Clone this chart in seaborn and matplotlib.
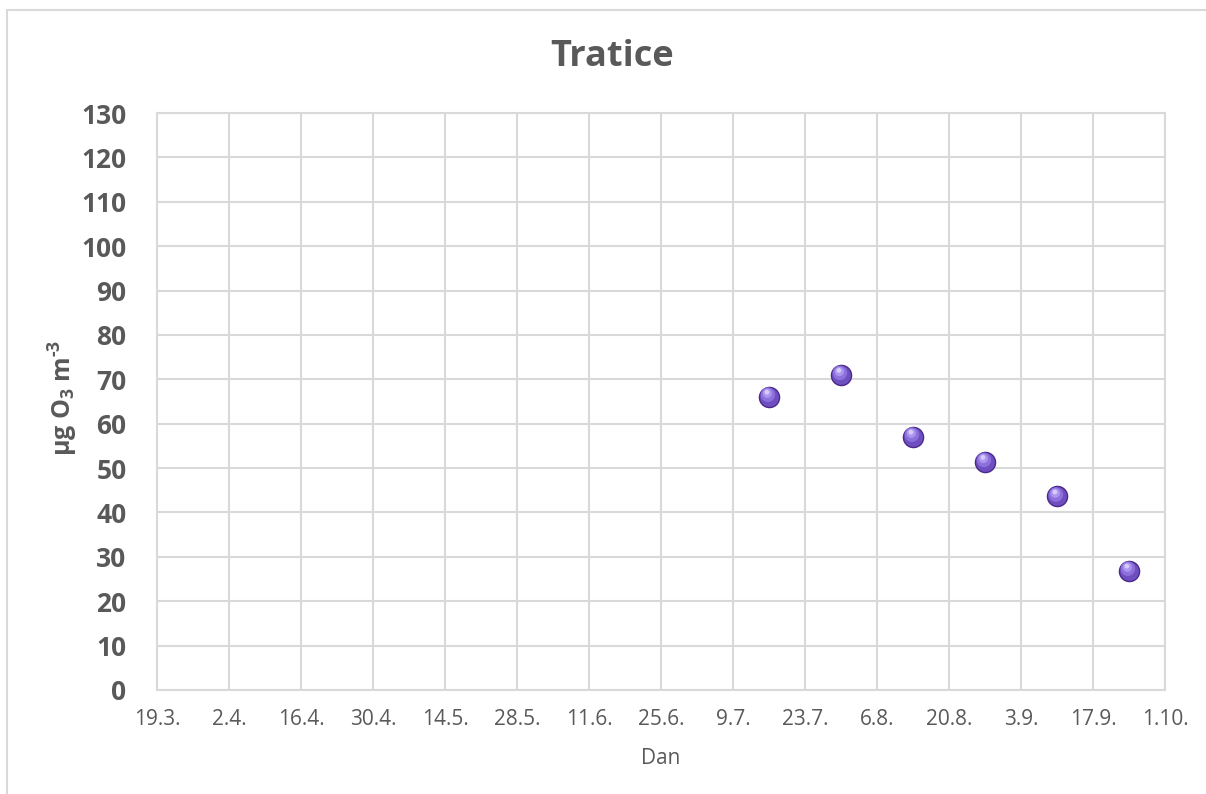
import numpy as np
import pandas as pd
import matplotlib
matplotlib.use("Agg")
import matplotlib.pyplot as plt
from matplotlib.patches import Rectangle
from matplotlib.transforms import offset_copy
import seaborn as sns

# Measurement days, counted from 19.3., and ozone concentrations
day_offsets = [119, 133, 147, 161, 175, 189]
ozone = [66.1, 71.0, 57.1, 51.4, 43.6, 26.9]

tick_days = list(range(0, 197, 14))
tick_labels = ["19.3.", "2.4.", "16.4.", "30.4.", "14.5.", "28.5.", "11.6.",
               "25.6.", "9.7.", "23.7.", "6.8.", "20.8.", "3.9.", "17.9.", "1.10."]
y_ticks = list(range(0, 131, 10))

title = "Tratice"
x_title = "Dan"
y_title = r"µg O$_{3}$ m$^{\text{-}3}$"

df = pd.DataFrame({"dan": day_offsets, "o3": ozone})

sns.set_theme(style="whitegrid")
plt.rcParams["font.family"] = ["Open Sans", "DejaVu Sans"]
plt.rcParams["mathtext.fontset"] = "custom"
plt.rcParams["mathtext.rm"] = "Open Sans:bold"
plt.rcParams["mathtext.it"] = "Open Sans:bold"
plt.rcParams["mathtext.bf"] = "Open Sans:bold"

text_color = "#595959"
grid_color = "#d9d9d9"

fig = plt.figure(figsize=(12.06, 7.94), dpi=100)
fig.patch.set_facecolor("white")

# light outer frame of the chart area
fig.patches.append(Rectangle((7 / 1206, -0.05), 1.2, 1.05 - 10 / 794,
                             transform=fig.transFigure, fill=False,
                             edgecolor=grid_color, linewidth=1.5, zorder=0))

ax = fig.add_axes([157 / 1206, 1 - 690 / 794, (1165 - 157) / 1206, (690 - 113) / 794])

# marker body, then soft highlights to give the sphere look
sns.scatterplot(data=df, x="dan", y="o3", ax=ax, s=210, color="#6f4fc0",
                edgecolor="#4a2a8c", linewidth=1.0, zorder=5, legend=False)
hl = offset_copy(ax.transData, fig=fig, x=-0.8, y=1.4, units="points")
ax.scatter(df["dan"], df["o3"], s=110, color="#8d70dc", edgecolor="none",
           transform=hl, zorder=6)
hl2 = offset_copy(ax.transData, fig=fig, x=-1.2, y=2.4, units="points")
ax.scatter(df["dan"], df["o3"], s=45, color="#ab95ee", edgecolor="none",
           transform=hl2, zorder=7)
hl3 = offset_copy(ax.transData, fig=fig, x=-1.5, y=3.2, units="points")
ax.scatter(df["dan"], df["o3"], s=12, color="#d6ccfa", edgecolor="none",
           transform=hl3, zorder=8)

ax.set_xlim(0, 196)
ax.set_ylim(0, 130)
ax.set_xticks(tick_days)
ax.set_xticklabels(tick_labels)
ax.set_yticks(y_ticks)
ax.grid(True, color=grid_color, linewidth=1.5)
for s in ax.spines.values():
    s.set_color(grid_color)
    s.set_linewidth(1.5)
ax.tick_params(axis="x", length=0, pad=14, labelsize=15, labelcolor=text_color)
ax.tick_params(axis="y", length=0, pad=22, labelsize=19, labelcolor=text_color)
for lbl in ax.get_yticklabels():
    lbl.set_fontweight("bold")
ax.set_xlabel("")
ax.set_ylabel("")

fig.text(612 / 1206, 1 - 57 / 794, title, ha="center", va="center",
         fontsize=26, fontweight="bold", color=text_color)
fig.text(661 / 1206, 1 - 758 / 794, x_title, ha="center", va="center",
         fontsize=15, color=text_color)
fig.text(63 / 1206, 1 - 398 / 794, y_title, ha="center", va="center",
         rotation=90, fontsize=18, fontweight="bold", color=text_color)

fig.savefig("out.png", dpi=100)
